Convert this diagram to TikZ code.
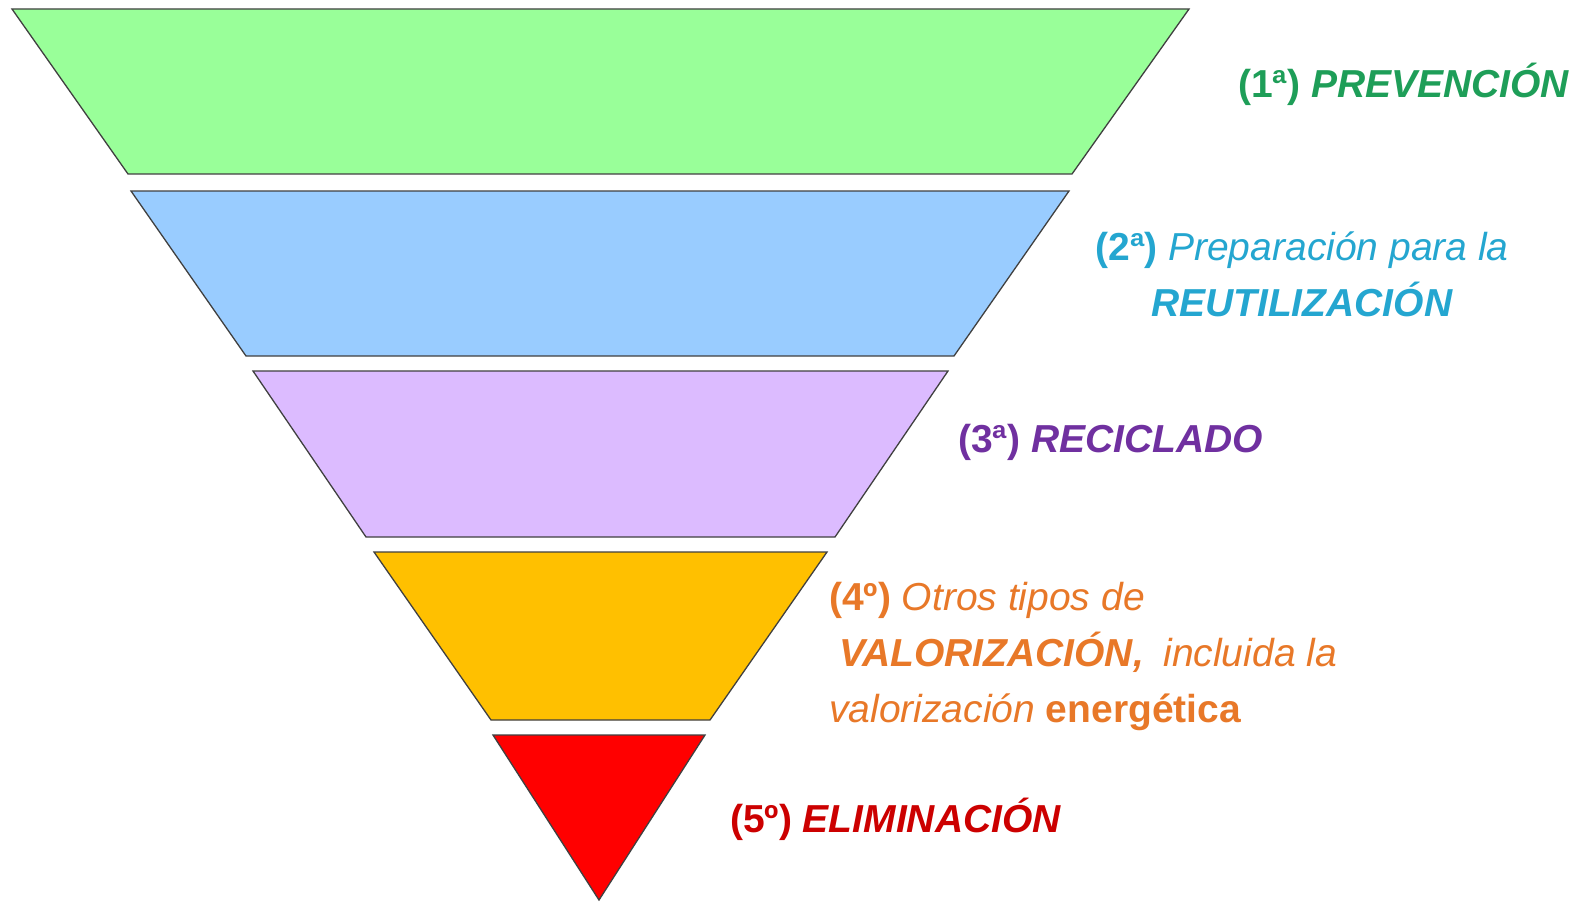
\documentclass[tikz,border=0pt]{standalone}
\usepackage{fontspec}
\setmainfont{Liberation Sans}
\definecolor{fgreen}{RGB}{153,255,153}
\definecolor{fblue}{RGB}{153,204,255}
\definecolor{fpurple}{RGB}{220,187,255}
\definecolor{forange}{RGB}{255,192,0}
\definecolor{fred}{RGB}{255,0,0}
\definecolor{tgreen}{RGB}{30,158,88}
\definecolor{tblue}{RGB}{36,166,208}
\definecolor{tpurple}{RGB}{112,48,160}
\definecolor{torange}{RGB}{232,120,40}
\definecolor{tred}{RGB}{204,0,0}
\tikzset{
  band/.style={draw=black!75, line width=1.3pt, line join=miter},
  lbl/.style={inner sep=0pt, font=\fontsize{39}{56}\selectfont}
}
\begin{document}
\begin{tikzpicture}[x=1pt,y=-1pt]
\useasboundingbox (0,0) rectangle (1586,904);
\fill[white] (0,0) rectangle (1586,904);
% bands
\draw[band, fill=fgreen] (12,9) -- (1189,9) -- (1072,174) -- (128,174) -- cycle;
\draw[band, fill=fblue] (131,191) -- (1069,191) -- (954,356) -- (246,356) -- cycle;
\draw[band, fill=fpurple] (253,371) -- (948,371) -- (835,537) -- (366,537) -- cycle;
\draw[band, fill=forange] (374,552) -- (827,552) -- (710,720) -- (491,720) -- cycle;
\draw[band, fill=fred] (493,735) -- (705,735) -- (599,900) -- cycle;
% labels
\node[lbl, anchor=west, text=tgreen] (t1) at (1238,84)
  {\textbf{(1ª)} \textbf{\textit{PREVENCIÓN}}};
\node[lbl, align=center, text=tblue] (t2) at (1302,274)
  {\textbf{(2ª)} \textit{Preparación para la}\\ \textbf{\textit{REUTILIZACIÓN}}};
\node[lbl, anchor=west, text=tpurple] (t3) at (958,442)
  {\textbf{(3ª)} \textbf{\textit{RECICLADO}}};
\node[lbl, anchor=west, align=left, text=torange] (t4) at (829,656)
  {\textbf{(4º)} \textit{Otros tipos de}\\
   \hspace{10pt}\textbf{\textit{VALORIZACIÓN,}}\enspace\textit{incluida la}\\
   \textit{valorización} \textbf{energética}};
\node[lbl, anchor=west, text=tred] (t5) at (730,819)
  {\textbf{(5º)} \textbf{\textit{ELIMINACIÓN}}};
\end{tikzpicture}
\end{document}
